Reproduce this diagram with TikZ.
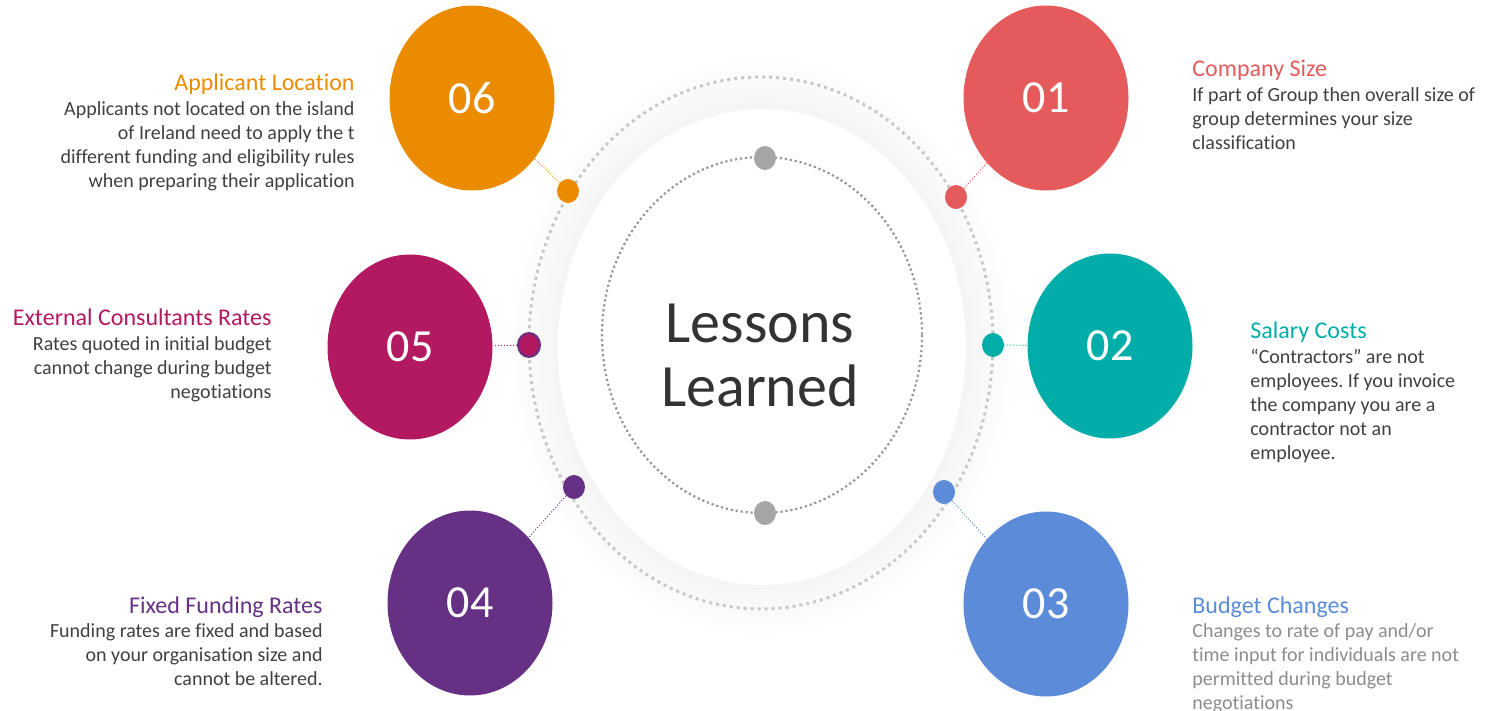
\documentclass[tikz,border=0pt]{standalone}
\usepackage{fontspec}
\setmainfont{Carlito}[Ligatures=NoCommon]
\usepackage{tikz}
\usetikzlibrary{shapes.geometric,positioning}
\definecolor{sizered}{RGB}{229,91,91}
\definecolor{salaryteal}{RGB}{0,173,168}
\definecolor{budgetblue}{RGB}{91,139,217}
\definecolor{fixedpurple}{RGB}{102,48,133}
\definecolor{consultmagenta}{RGB}{179,25,96}
\definecolor{locorange}{RGB}{235,140,0}
\definecolor{bodytext}{RGB}{64,64,64}
\definecolor{hubtext}{RGB}{51,51,51}
\definecolor{softtext}{RGB}{140,140,140}
\definecolor{ringlight}{RGB}{200,200,200}
\definecolor{ringdark}{RGB}{150,150,150}
\frenchspacing

\begin{document}
\begin{tikzpicture}[
    x=0.5pt, y=-0.5pt,
    bubble/.style={ellipse, fill=#1, minimum width=82.5pt, minimum height=92.5pt, inner sep=0pt, text=white, font=\fontsize{23}{23}\selectfont},
    knob/.style={ellipse, fill=#1, minimum width=11pt, minimum height=12pt, inner sep=0pt},
    link/.style={draw=#1, line width=0.5pt, densely dotted},
    heading/.style={inner sep=0pt, text=#1, font=\fontsize{12}{12}\selectfont, text depth=0.25em},
    detail/.style={inner sep=0pt, text=bodytext, font=\fontsize{10}{12}\selectfont},
    ring/.style={draw=#1, line width=1.5pt, dash pattern=on 1.5pt off 2pt}
]
\useasboundingbox (0,0) rectangle (1489,711);

% halo and hub
\foreach \d in {0,5,...,50}
  \fill[black, opacity=0.005] (762,347) ellipse [x radius=204+\d, y radius=238+\d];
\draw[ring=ringlight] (761,343) ellipse [x radius=232, y radius=266];
\node[ellipse, fill=white, minimum width=204pt, minimum height=238pt, inner sep=0pt] (hub) at (762,347) {};
\draw[ring=ringdark, line width=1.1pt, dash pattern=on 1.1pt off 1.4pt] (762,335) ellipse [x radius=160, y radius=178];
\node[knob=ringdark!85] (hubtop) at (765,158) {};
\node[knob=ringdark!85] (hubbottom) at (765,513) {};
\node[text=hubtext, align=center, font=\fontsize{30}{32}\selectfont] (label) at (760,355) {Lessons\\Learned};

% bubbles
\node[bubble=sizered] (b01) at (1046,98) {01};
\node[bubble=salaryteal] (b02) at (1110,346) {02};
\node[bubble=budgetblue] (b03) at (1046,604) {03};
\node[bubble=fixedpurple] (b04) at (470,603) {04};
\node[bubble=consultmagenta] (b05) at (410,347) {05};
\node[bubble=locorange] (b06) at (472,98) {06};

% knobs on the outer ring
\node[knob=sizered] (k01) at (956,197) {};
\node[knob=salaryteal] (k02) at (993,345) {};
\node[knob=budgetblue] (k03) at (944,492) {};
\node[knob=fixedpurple] (k04) at (574,487) {};
\node[knob=consultmagenta, draw=fixedpurple, line width=1pt] (k05) at (529,345) {};
\node[knob=locorange] (k06) at (568,191) {};

\draw[link=sizered] (k01) -- (b01);
\draw[link=salaryteal] (k02) -- (b02);
\draw[link=budgetblue] (k03) -- (b03);
\draw[link=fixedpurple] (k04) -- (b04);
\draw[link=consultmagenta] (k05) -- (b05);
\draw[link=locorange] (k06) -- (b06);

% texts
\node[heading=sizered, anchor=base west] (t01) at (1192,77) {Company Size};
\node[detail, align=left, below=2.5pt of t01.south west, anchor=north west] (d01) {If part of Group then overall size of\\group determines your size\\classification};

\node[heading=salaryteal, anchor=base west] (t02) at (1250,338) {Salary Costs};
\node[detail, align=left, below=2.5pt of t02.south west, anchor=north west] (d02) {``Contractors'' are not\\employees. If you invoice\\the company you are a\\contractor not an\\employee.};

\node[heading=budgetblue, anchor=base west] (t03) at (1192,613) {Budget Changes};
\node[detail, text=softtext, align=left, below=2.5pt of t03.south west, anchor=north west] (d03) {Changes to rate of pay and/or\\time input for individuals are not\\permitted during budget\\negotiations};

\node[heading=fixedpurple, anchor=base east] (t04) at (323,613) {Fixed Funding Rates};
\node[detail, align=right, below=2.5pt of t04.south east, anchor=north east] (d04) {Funding rates are fixed and based\\on your organisation size and\\cannot be altered.};

\node[heading=consultmagenta, anchor=base east] (t05) at (272,326) {External Consultants Rates};
\node[detail, align=right, below=2.5pt of t05.south east, anchor=north east] (d05) {Rates quoted in initial budget\\cannot change during budget\\negotiations};

\node[heading=locorange, anchor=base east] (t06) at (355,91) {Applicant Location};
\node[detail, align=right, below=2.5pt of t06.south east, anchor=north east] (d06) {Applicants not located on the island\\of Ireland need to apply the t\\different funding and eligibility rules\\when preparing their application};

\end{tikzpicture}
\end{document}
